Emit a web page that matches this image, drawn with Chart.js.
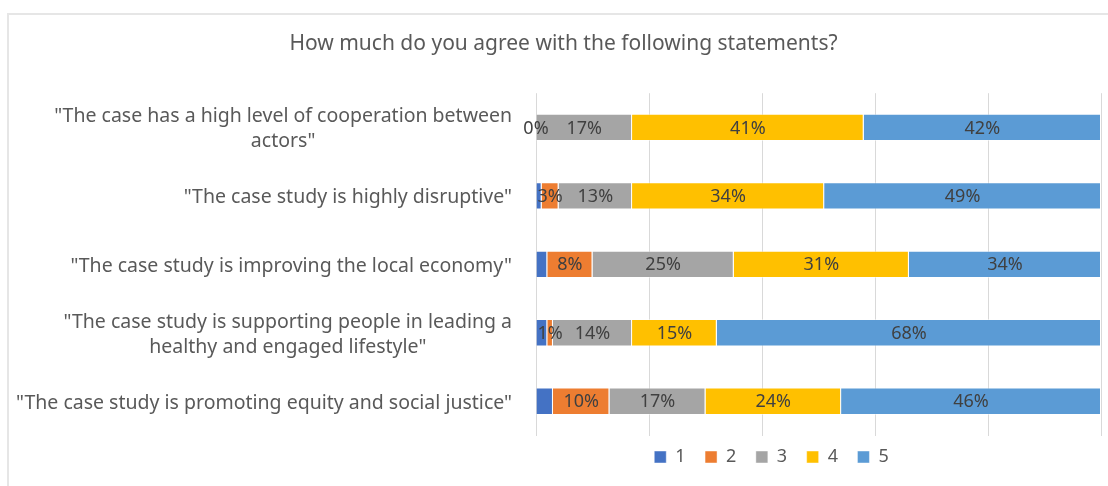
<!DOCTYPE html>
<html>
<head>
<meta charset="utf-8">
<script src="https://cdn.jsdelivr.net/npm/chart.js@4.4.1/dist/chart.umd.min.js"></script>
<style>
	html, body { margin: 0; padding: 0; background: #fff; }
	#frame {
		position: absolute; left: 7px; top: 13px; width: 1110px; height: 480px;
		border-top: 2px solid #e6e6e6; border-left: 2px solid #e6e6e6;
	}
	#wrap { position: absolute; left: 0; top: 0; width: 1108px; height: 486px; }
</style>
</head>
<body>
<div id="frame"></div>
<div id="wrap"><canvas id="agree-chart" width="1108" height="486"></canvas></div>
<script>
/* global Chart */

// Statements (multi-line ones are split where they wrap).
var STATEMENTS = [
	['"The case has a high level of cooperation between', 'actors"'],
	['"The case study is highly disruptive"'],
	['"The case study is improving the local economy"'],
	['"The case study is supporting people in leading a', 'healthy and engaged lifestyle"'],
	['"The case study is promoting equity and social justice"']
];

// Answer scale 1..5, share of respondents in percent.
var SCALE = ['1', '2', '3', '4', '5'];
var ANSWER_1 = [0, 1, 2, 2, 3];
var ANSWER_2 = [0, 3, 8, 1, 10];
var ANSWER_3 = [17, 13, 25, 14, 17];
var ANSWER_4 = [41, 34, 31, 15, 24];
var ANSWER_5 = [42, 49, 34, 68, 46];
var X_TICKS = [0, 20, 40, 60, 80, 100];

var COLORS = ['#4472C4', '#ED7D31', '#A5A5A5', '#FFC000', '#5B9BD5'];
var FONT = '"Noto Sans", "Open Sans", sans-serif';
var TEXT = '#595959';

// Nudges (px) for the title and legend relative to where the layout puts them.
var TITLE_DX = 13;
var LEGEND_DX = -47;
var LEGEND_DY = -7;

// Percent labels centred in each segment (series "1" has none).
var segmentLabels = {
	id: 'segmentLabels',
	afterDatasetsDraw: function (chart) {
		var ctx = chart.ctx;
		ctx.save();
		ctx.font = '18px ' + FONT;
		ctx.fillStyle = '#404040';
		ctx.textAlign = 'center';
		ctx.textBaseline = 'middle';
		chart.data.datasets.forEach(function (ds, i) {
			if (i === 0) {
				return;
			}
			chart.getDatasetMeta(i).data.forEach(function (bar, j) {
				ctx.fillText(ds.data[j] + '%', (bar.x + bar.base) / 2, bar.y + 1);
			});
		});
		ctx.restore();
	}
};

// Statement labels: block right-aligned to the axis, lines centred in the block.
var statementLabels = {
	id: 'statementLabels',
	afterDraw: function (chart) {
		var ctx = chart.ctx;
		var y = chart.scales.y;
		var right = chart.chartArea.left - 24;
		ctx.save();
		ctx.font = '19.5px ' + FONT;
		ctx.fillStyle = TEXT;
		ctx.textAlign = 'center';
		ctx.textBaseline = 'middle';
		STATEMENTS.forEach(function (lines, i) {
			var w = Math.max.apply(null, lines.map(function (l) { return ctx.measureText(l).width; }));
			var cy = y.getPixelForValue(i) + 2;
			lines.forEach(function (line, k) {
				ctx.fillText(line, right - w / 2, cy + (k - (lines.length - 1) / 2) * 25);
			});
		});
		ctx.restore();
	}
};

var boxShift = {
	id: 'boxShift',
	afterLayout: function (chart) {
		var lg = chart.legend;
		lg.left += LEGEND_DX;
		lg.right += LEGEND_DX;
		lg.top += LEGEND_DY;
		lg.bottom += LEGEND_DY;
		lg.adjustHitBoxes();
		chart.titleBlock.left += TITLE_DX;
		chart.titleBlock.right += TITLE_DX;
	}
};

var answers = [ANSWER_1, ANSWER_2, ANSWER_3, ANSWER_4, ANSWER_5];

new Chart(document.getElementById('agree-chart'), {
	type: 'bar',
	data: {
		labels: STATEMENTS,
		datasets: answers.map(function (vals, i) {
			return {
				label: SCALE[i],
				data: vals,
				backgroundColor: COLORS[i],
				borderColor: 'rgba(255,255,255,0.45)',
				borderWidth: 1,
				barPercentage: 0.4,
				categoryPercentage: 1
			};
		})
	},
	options: {
		indexAxis: 'y',
		responsive: false,
		animation: false,
		layout: { padding: { left: 0, right: 7, top: 0, bottom: 3 } },
		plugins: {
			title: {
				display: true,
				text: 'How much do you agree with the following statements?',
				color: TEXT,
				font: { family: FONT, size: 21, weight: 'normal' },
				padding: { top: 31, bottom: 37 }
			},
			legend: {
				display: true,
				position: 'bottom',
				fullSize: false,
				labels: {
					color: TEXT,
					font: { family: FONT, size: 18 },
					boxWidth: 12,
					boxHeight: 12,
					padding: 19.5
				}
			},
			tooltip: { enabled: false }
		},
		scales: {
			x: {
				stacked: true,
				min: 0,
				max: 100,
				afterBuildTicks: function (scale) {
					scale.ticks = X_TICKS.map(function (v) { return { value: v }; });
				},
				ticks: { display: false },
				grid: { color: '#d9d9d9', drawTicks: false },
				border: { display: false }
			},
			y: {
				stacked: true,
				ticks: { display: false },
				grid: { display: false, drawTicks: false },
				border: { display: false },
				afterFit: function (scale) {
					scale.width = 536;
				}
			}
		}
	},
	plugins: [segmentLabels, statementLabels, boxShift]
});
</script>
</body>
</html>
